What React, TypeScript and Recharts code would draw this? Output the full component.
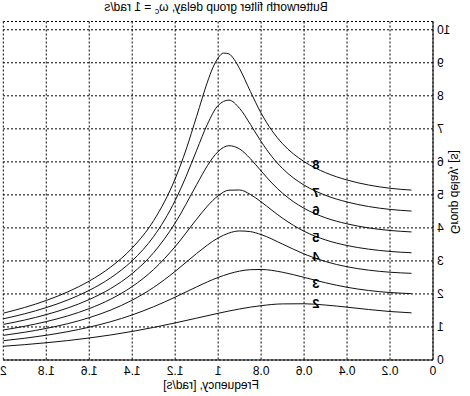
import React from 'react';
import { ComposedChart, Line, Scatter, XAxis, YAxis, CartesianGrid } from 'recharts';

// frequency grids (rad/s) the curves are sampled on
const freq2 = [0.1, 0.2, 0.3, 0.4, 0.5, 0.6, 0.7, 0.8, 0.9, 1.0, 1.1, 1.2, 1.3, 1.4, 1.5, 1.6, 1.7, 1.8, 1.9, 2.0];
const freq3 = [0.1, 0.2, 0.3, 0.4, 0.5, 0.6, 0.7, 0.8, 0.85, 0.9, 1.0, 1.1, 1.2, 1.3, 1.4, 1.5, 1.6, 1.7, 1.8, 1.9, 2.0];
const freq4 = [0.1, 0.2, 0.3, 0.4, 0.5, 0.6, 0.7, 0.8, 0.85, 0.9, 0.95, 1.0, 1.1, 1.2, 1.3, 1.4, 1.5, 1.6, 1.7, 1.8, 1.9, 2.0];
const freq56 = [0.1, 0.2, 0.3, 0.4, 0.5, 0.6, 0.7, 0.75, 0.8, 0.85, 0.9, 0.95, 1.0, 1.05, 1.1, 1.2, 1.3, 1.4, 1.5, 1.6, 1.7, 1.8, 1.9, 2.0];
const freq7 = [0.1, 0.2, 0.3, 0.4, 0.5, 0.6, 0.7, 0.75, 0.8, 0.85, 0.9, 0.95, 1.0, 1.05, 1.1, 1.15, 1.2, 1.3, 1.4, 1.5, 1.6, 1.7, 1.8, 1.9, 2.0];
const freq8 = [0.1, 0.2, 0.3, 0.4, 0.5, 0.6, 0.7, 0.75, 0.8, 0.85, 0.9, 0.925, 0.95, 0.975, 1.0, 1.025, 1.05, 1.1, 1.15, 1.2, 1.3, 1.4, 1.5, 1.6, 1.7, 1.8, 1.9, 2.0];

// group delay [s] per filter order
const delay2 = [1.428, 1.468, 1.529, 1.6, 1.664, 1.703, 1.699, 1.645, 1.546, 1.414, 1.268, 1.123, 0.987, 0.865, 0.758, 0.667, 0.588, 0.522, 0.465, 0.416];
const delay3 = [2.01, 2.043, 2.105, 2.202, 2.338, 2.502, 2.657, 2.741, 2.735, 2.692, 2.5, 2.215, 1.903, 1.614, 1.365, 1.16, 0.994, 0.859, 0.749, 0.659, 0.585];
const delay4 = [2.624, 2.658, 2.721, 2.823, 2.981, 3.211, 3.509, 3.798, 3.887, 3.908, 3.844, 3.696, 3.226, 2.684, 2.2, 1.813, 1.513, 1.282, 1.1, 0.957, 0.841, 0.745];
const delay5 = [3.248, 3.287, 3.357, 3.466, 3.636, 3.899, 4.292, 4.536, 4.789, 5.012, 5.148, 5.142, 4.972, 4.661, 4.264, 3.434, 2.742, 2.224, 1.843, 1.556, 1.336, 1.163, 1.023, 0.909];
const delay6 = [3.878, 3.922, 4.0, 4.123, 4.306, 4.593, 5.048, 5.36, 5.723, 6.095, 6.39, 6.489, 6.313, 5.884, 5.31, 4.149, 3.252, 2.618, 2.165, 1.831, 1.575, 1.374, 1.211, 1.077];
const delay7 = [4.51, 4.56, 4.648, 4.784, 4.987, 5.296, 5.797, 6.16, 6.614, 7.135, 7.618, 7.87, 7.709, 7.14, 6.352, 5.547, 4.831, 3.742, 3.006, 2.489, 2.109, 1.817, 1.587, 1.4, 1.247];
const delay8 = [5.144, 5.2, 5.299, 5.45, 5.673, 6.008, 6.547, 6.949, 7.476, 8.132, 8.82, 9.098, 9.269, 9.294, 9.148, 8.845, 8.416, 7.381, 6.358, 5.488, 4.223, 3.393, 2.816, 2.39, 2.063, 1.803, 1.592, 1.418];

// order labels written next to the curves
const labelOrders = ['8', '7', '6', '5', '4', '3', '2'];
const labelFreq = [0.545, 0.545, 0.545, 0.545, 0.545, 0.545, 0.545];
const labelDelay = [5.93, 5.09, 4.54, 3.72, 3.15, 2.33, 1.73];

const xTicks = [0, 0.2, 0.4, 0.6, 0.8, 1, 1.2, 1.4, 1.6, 1.8, 2];
const yTicks = [0, 1, 2, 3, 4, 5, 6, 7, 8, 9, 10];

const pairs = (xs: number[], ys: number[]) => xs.map((x, i) => ({ x, y: ys[i] }));

const series = [
  pairs(freq2, delay2),
  pairs(freq3, delay3),
  pairs(freq4, delay4),
  pairs(freq56, delay5),
  pairs(freq56, delay6),
  pairs(freq7, delay7),
  pairs(freq8, delay8),
];

const labels = labelOrders.map((n, i) => ({ x: labelFreq[i], y: labelDelay[i], n }));

const OrderLabel = (props: any) => (
  <text x={props.cx} y={props.cy} dy="0.36em" textAnchor="middle" fontSize={13} fontWeight="bold" fill="#000">
    {props.payload.n}
  </text>
);

const tickStyle = { fontSize: 12, fill: '#000' };

export default function App() {
  return (
    <div
      style={{
        position: 'absolute',
        left: 0,
        top: 0,
        width: 470,
        height: 396,
        background: '#fff',
        fontFamily: '"Liberation Sans", Arial, sans-serif',
        transform: 'scaleX(-1)',
      }}
    >
      <ComposedChart width={470} height={396} margin={{ top: 21.5, right: 3.3, bottom: 0, left: 0 }}>
        <CartesianGrid stroke="#000" strokeDasharray="2 2" />
        <XAxis
          type="number"
          dataKey="x"
          domain={[0, 2]}
          ticks={xTicks}
          height={36}
          tickSize={0}
          tickMargin={6}
          tick={tickStyle}
          stroke="#000"
          allowDataOverflow
        />
        <XAxis xAxisId="top" orientation="top" type="number" domain={[0, 2]} height={0} tick={false} tickLine={false} stroke="#000" />
        <YAxis
          type="number"
          domain={[0, 10.25]}
          ticks={yTicks}
          width={37}
          tickSize={0}
          tickMargin={4}
          tick={tickStyle}
          stroke="#000"
          allowDataOverflow
        />
        <YAxis yAxisId="right" orientation="right" domain={[0, 10.25]} width={0} tick={false} tickLine={false} stroke="#000" />
        {series.map((d, i) => (
          <Line
            key={i}
            data={d}
            dataKey="y"
            type="monotone"
            stroke="#111"
            strokeWidth={1}
            dot={false}
            isAnimationActive={false}
          />
        ))}
        <Scatter data={labels} dataKey="y" shape={OrderLabel} isAnimationActive={false} />
      </ComposedChart>
      <div style={{ position: 'absolute', left: 254, top: 0, transform: 'translateX(-50%)', fontSize: 12, lineHeight: '14px', whiteSpace: 'nowrap' }}>
        Butterworth filter group delay, ω<sub style={{ fontSize: 9 }}>c</sub> = 1 rad/s
      </div>
      <div style={{ position: 'absolute', left: 259, top: 379, transform: 'translateX(-50%)', fontSize: 12, lineHeight: '12px', whiteSpace: 'nowrap' }}>
        Frequency, [rad/s]
      </div>
      <div
        style={{
          position: 'absolute',
          left: 15,
          top: 192,
          transform: 'translate(-50%, -50%) rotate(-90deg)',
          fontSize: 12,
          lineHeight: '14px',
          whiteSpace: 'nowrap',
        }}
      >
        Group delay, [s]
      </div>
    </div>
  );
}
